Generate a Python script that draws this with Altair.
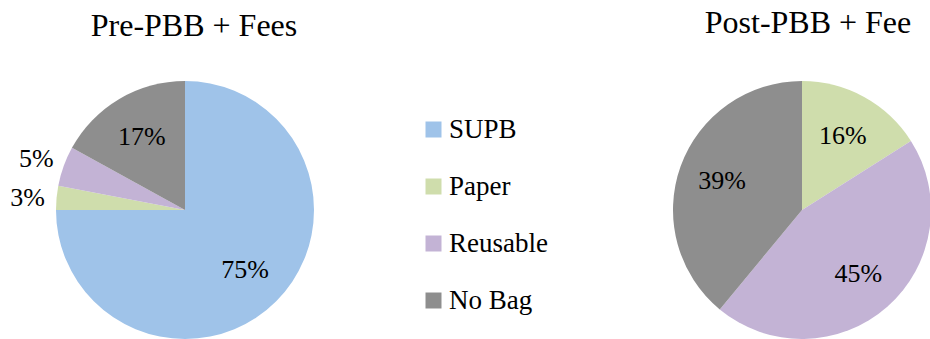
import altair as alt
import pandas as pd

categories = ["SUPB", "Paper", "Reusable", "No Bag"]
pre_values = [75, 3, 5, 17]
post_values = [0, 16, 45, 39]
titles = ["Pre-PBB + Fees", "Post-PBB + Fee"]
colors = ["#9FC3E9", "#CFDDAC", "#C3B3D5", "#8E8E8E"]

FONT = "Liberation Serif"


def frame(vals):
    return pd.DataFrame({
        "category": categories,
        "value": vals,
        "order": list(range(len(categories))),
        "label": [f"{v}%" for v in vals],
    })


color_enc = alt.Color(
    "category:N",
    scale=alt.Scale(domain=categories, range=colors),
    legend=alt.Legend(
        orient="none", legendX=420, legendY=116, title=None,
        symbolType="square", symbolSize=256, symbolStrokeWidth=0,
        labelFont=FONT, labelFontSize=27, labelColor="#000000",
        labelOffset=2, rowPadding=29, padding=0, labelLimit=300,
    ),
)


def pie(vals, cx, cy, title, tx, ty):
    df = frame(vals)
    base = alt.Chart(df).transform_calculate(
        inlabel="datum.value >= 10 ? datum.label : ''",
        outlabel="datum.value < 10 && datum.value > 0 ? datum.label : ''",
    ).encode(
        theta=alt.Theta("value:Q", stack=True),
        order=alt.Order("order:Q"),
        x=alt.value(cx), y=alt.value(cy),
    )
    arcs = base.mark_arc(radius=129, stroke=None).encode(color=color_enc)
    inner = base.mark_text(radius=85, font=FONT, fontSize=26, color="#000000").encode(
        text="inlabel:N")
    outer = base.mark_text(radius=158, dy=3, font=FONT, fontSize=26, color="#000000").encode(
        text="outlabel:N")
    ttl = alt.Chart(pd.DataFrame({"t": [title]})).mark_text(
        font=FONT, fontSize=32, baseline="alphabetic", color="#000000"
    ).encode(text="t:N", x=alt.value(tx), y=alt.value(ty))
    return [arcs, inner, outer, ttl]


layers = pie(pre_values, 185, 210, titles[0], 194, 36) + \
    pie(post_values, 802, 210, titles[1], 808, 33)

chart = alt.layer(*layers).properties(
    width=930, height=339,
    autosize=alt.AutoSizeParams(type="none"),
    padding=0,
).configure(font=FONT).configure_text(font=FONT).configure_legend(
    labelFont=FONT
).configure_view(stroke=None)

chart.save("out.html", embed_options={"renderer": "svg", "actions": False})
